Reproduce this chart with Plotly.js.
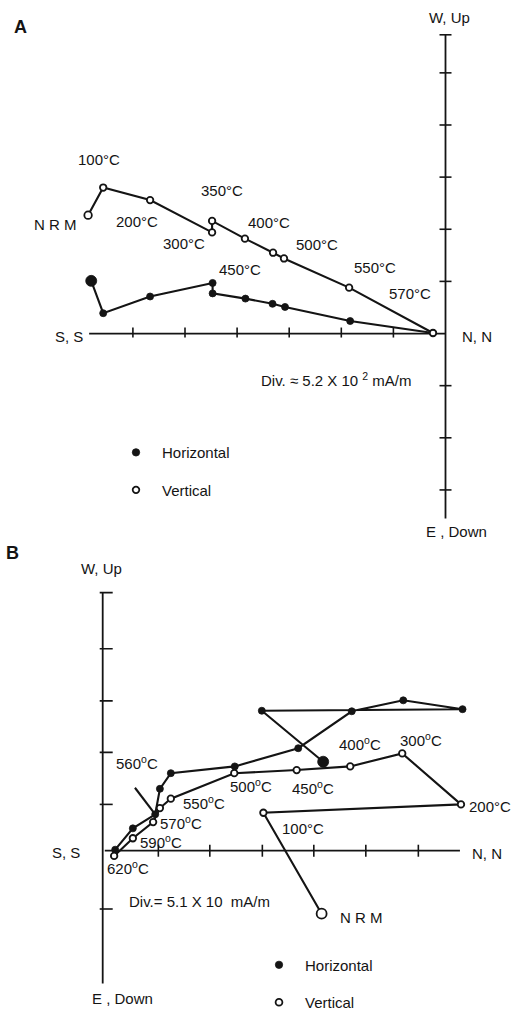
<!DOCTYPE html>
<html><head><meta charset="utf-8">
<script src="https://cdn.plot.ly/plotly-3.0.1.min.js"></script>
<style>html,body{margin:0;padding:0;background:#fff;}#chart{width:512px;height:1019px;}</style>
</head><body><div id="chart"></div>
<script>
// ---------- Panel A (units = divisions, Div. ≈ 5.2 × 10² mA/m) ----------
const stepsA  = ['NRM','100','200','300','350','400','450','500','550','570'];
const aHorX   = [-6.80,-6.57,-5.67,-4.47,-4.47,-3.84,-3.32,-3.08,-1.83,-0.24];
const aHorY   = [ 1.01, 0.39, 0.71, 0.97, 0.77, 0.67, 0.57, 0.51, 0.24, 0.01];
const aVerX   = [-6.86,-6.57,-5.67,-4.48,-4.48,-3.85,-3.31,-3.10,-1.85,-0.24];
const aVerY   = [ 2.27, 2.80, 2.56, 1.94, 2.16, 1.82, 1.55, 1.44, 0.88, 0.01];
const aLabels = ['N R M','100°C','200°C','300°C','350°C','400°C','450°C','500°C','550°C','570°C'];
const aTicksX = [-6,-5,-4,-3,-2,-1];
const aTicksY = [5.73,5,4,3,2,1,-1,-2,-3];
const aAxisX  = [-6.84, 0];
const aAxisY  = [-3.55, 5.73];

// ---------- Panel B (units = divisions, Div. = 5.1 × 10 mA/m) ----------
const stepsB  = ['NRM','100','200','300','400','450','500','550','560','570','590','620'];
const bHorX   = [4.24,3.06,6.92,5.78,4.79,3.76,2.54,1.31,1.10,1.01,0.58,0.24];
const bHorY   = [1.71,2.69,2.72,2.89,2.68,1.97,1.62,1.49,1.19,0.70,0.43,0.02];
const bVerX   = [4.21,3.09,6.89,5.76,4.76,3.73,2.53,1.31,1.10,0.97,0.58,0.22];
const bVerY   = [-1.21,0.73,0.89,1.87,1.62,1.55,1.49,1.00,0.82,0.55,0.24,-0.10];
const bLabels = ['N R M','100°C','200°C','300<sup>o</sup>C','400<sup>o</sup>C','450<sup>o</sup>C',
                 '500<sup>o</sup>C','550<sup>o</sup>C','560<sup>o</sup>C','570<sup>o</sup>C','590<sup>o</sup>C','620<sup>o</sup>C'];
const bExtraX = [0.62, 1.01];
const bExtraY = [1.21, 0.70];
const bTicksX = [1.07,2.06,3.07,4.06,5.06,6.07];
const bTicksY = [4.96,3.88,2.88,1.89,0.89,-1.12];
const bAxisX  = [0.04, 6.87];
const bAxisY  = [-2.55, 4.96];

// ---------- layout / style constants ----------
const W = 512, H = 1019;
const FONT = 'Liberation Sans, Arial, Helvetica, sans-serif';
const INK = '#141414';
const geomA = {ox:445.5, oy:336.5, sx:52.1, sy:52.6, top:0,   bottom:545};
const geomB = {ox:102.7, oy:858.3, sx:52.0, sy:52.5, top:545, bottom:1019};
// label offsets in pixels (dx right, dy up) from each vertical-projection point
const aLabDX = [-33,-4,-13,-28,10,24,-33,33,26,-23];
const aLabDY = [-9,28,-21,-11,30,16,-17,14,20,40];
const bLabDX = [40,40,29,19,10,16,17,33,-23,28,28,14];
const bLabDY = [-4,-16,-2,14,23,-17,-12,-4,46,0,-3,-12];

function axesFor(g){
  return {
    x:{domain:[0,1], range:[-g.ox/g.sx, (W-g.ox)/g.sx], visible:false, fixedrange:true},
    y:{domain:[1-g.bottom/H, 1-g.top/H], range:[(g.oy-g.bottom)/g.sy, (g.oy-g.top)/g.sy], visible:false, fixedrange:true}
  };
}
const axA = axesFor(geomA), axB = axesFor(geomB);

function lineTrace(x,y,xa,ya,w){
  return {x:x,y:y,xaxis:xa,yaxis:ya,mode:'lines',line:{color:INK,width:w||2.1},showlegend:false,hoverinfo:'skip',cliponaxis:false};
}
function markerTrace(x,y,xa,ya,open,sizes,name,legend,group){
  return {x:x,y:y,xaxis:xa,yaxis:ya,mode:'markers',name:name,legend:legend,legendgroup:group,
    showlegend:true,hoverinfo:'skip',cliponaxis:false,opacity:1,
    marker:{symbol:'circle',size:sizes,opacity:1,color:open?'#ffffff':INK,line:{color:INK,width:open?1.8:0.8}}};
}
const sizeArr = (n,big,norm)=>Array.from({length:n},(_,i)=>i===0?big:norm);

const traces = [
  lineTrace(aHorX,aHorY,'x','y'),
  lineTrace(aVerX,aVerY,'x','y'),
  markerTrace(aHorX,aHorY,'x','y',false,sizeArr(aHorX.length,11,7),'Horizontal','legend','aH'),
  markerTrace(aVerX,aVerY,'x','y',true, sizeArr(aVerX.length,7.5,6.5),'Vertical','legend','aV'),
  lineTrace(bExtraX,bExtraY,'x2','y2'),
  lineTrace(bHorX,bHorY,'x2','y2'),
  lineTrace(bVerX,bVerY,'x2','y2'),
  markerTrace(bHorX,bHorY,'x2','y2',false,sizeArr(bHorX.length,11,7),'Horizontal','legend2','bH'),
  markerTrace(bVerX,bVerY,'x2','y2',true, sizeArr(bVerX.length,10,6.5),'Vertical','legend2','bV')
];

// axes drawn as shapes in data coordinates
const shapes = [];
function axisLines(xa,ya,ax,ay){
  shapes.push({type:'line',xref:xa,yref:ya,x0:ax[0],x1:ax[1],y0:0,y1:0,layer:'below',line:{color:INK,width:1.8}});
  shapes.push({type:'line',xref:xa,yref:ya,x0:0,x1:0,y0:ay[0],y1:ay[1],layer:'below',line:{color:INK,width:1.8}});
}
function xTicks(xa,ya,ticks,dn,up){
  ticks.forEach(t=>shapes.push({type:'line',xref:xa,yref:ya,x0:t,x1:t,ysizemode:'pixel',yanchor:0,y0:-dn,y1:up,layer:'below',line:{color:INK,width:1.6}}));
}
function yTicks(xa,ya,ticks,lf,rt){
  ticks.forEach(t=>shapes.push({type:'line',xref:xa,yref:ya,y0:t,y1:t,xsizemode:'pixel',xanchor:0,x0:-lf,x1:rt,layer:'below',line:{color:INK,width:1.6}}));
}
axisLines('x','y',aAxisX,aAxisY);
xTicks('x','y',aTicksX,4,6);
yTicks('x','y',aTicksY,6,6);
axisLines('x2','y2',bAxisX,bAxisY);
xTicks('x2','y2',bTicksX,6,6);
yTicks('x2','y2',bTicksY,3,10);

const f = (s,extra)=>Object.assign({family:FONT,size:s,color:INK},extra||{});
const annotations = [];
aLabels.forEach((t,i)=>annotations.push({xref:'x',yref:'y',x:aVerX[i],y:aVerY[i],text:t,showarrow:false,
  xshift:aLabDX[i],yshift:aLabDY[i],xanchor:'center',yanchor:'middle',font:f(15)}));
bLabels.forEach((t,i)=>annotations.push({xref:'x2',yref:'y2',x:bVerX[i],y:bVerY[i],text:t,showarrow:false,
  xshift:bLabDX[i],yshift:bLabDY[i],xanchor:'center',yanchor:'middle',font:f(15)}));
function paperText(text,x,y,anchor,font){
  annotations.push({xref:'paper',yref:'paper',x:x/W,y:1-y/H,text:text,showarrow:false,xanchor:anchor,yanchor:'middle',font:font});
}
paperText('<b>A</b>',20,27,'center',f(18));
paperText('W, Up',449,18,'center',f(15));
paperText('S, S',69,339,'center',f(15));
paperText('N, N',477,339,'center',f(15));
paperText('E , Down',456,536,'center',f(15));
paperText('Div. ≈ 5.2 X 10 <sup>2</sup> mA/m',259,383,'left',f(15));
paperText('<b>B</b>',12,558,'center',f(18));
paperText('W, Up',101,574,'center',f(15));
paperText('S, S',66,860,'center',f(15));
paperText('N, N',487,861,'center',f(15));
paperText('E , Down',122,1007,'center',f(15));
paperText('Div.= 5.1 X 10\u00a0\u00a0mA/m',127,910,'left',f(15));

const legendBase = {xanchor:'left',yanchor:'top',bgcolor:'rgba(0,0,0,0)',borderwidth:0,
  font:f(15),itemwidth:42,traceorder:'grouped',tracegroupgap:15,itemclick:false,itemdoubleclick:false};

const layout = {
  width:W,height:H,autosize:false,margin:{l:0,r:0,t:0,b:0,pad:0},
  paper_bgcolor:'#ffffff',plot_bgcolor:'#ffffff',hovermode:false,showlegend:true,
  xaxis:Object.assign({anchor:'y'},axA.x), yaxis:Object.assign({anchor:'x'},axA.y),
  xaxis2:Object.assign({anchor:'y2'},axB.x), yaxis2:Object.assign({anchor:'x2'},axB.y),
  legend:Object.assign({},legendBase,{x:110/W,y:1-440/H}),
  legend2:Object.assign({},legendBase,{x:253/W,y:1-957/H}),
  shapes:shapes, annotations:annotations, font:f(15)
};
Plotly.newPlot('chart',traces,layout,{displayModeBar:false,staticPlot:true});
</script></body></html>
